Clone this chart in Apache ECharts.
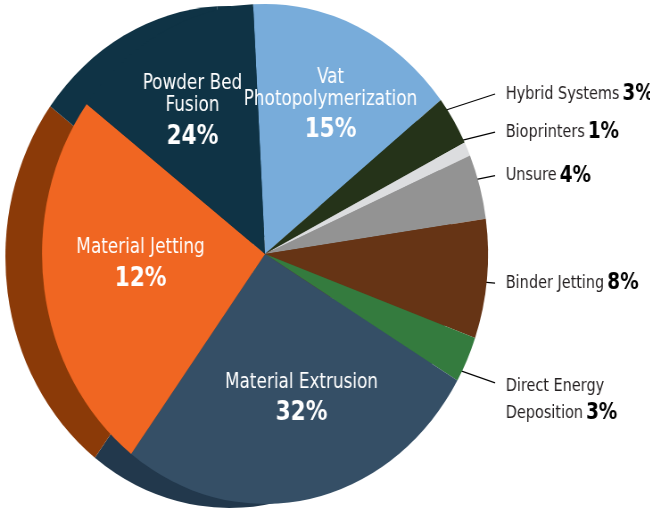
<!DOCTYPE html>
<html><head><meta charset="utf-8">
<script src="https://cdn.jsdelivr.net/npm/echarts@6/dist/echarts.min.js"></script>
<style>
html,body{margin:0;padding:0;background:#fff;overflow:hidden;width:650px;height:514px}
#chart{width:729px;height:514px;transform:scaleX(0.892);transform-origin:0 0}
</style></head><body><div id="chart"></div>
<script>
// categories clockwise from the top
const categories = ['Vat Photopolymerization','Hybrid Systems','Bioprinters','Unsure','Binder Jetting','Direct Energy Deposition','Material Extrusion','Material Jetting','Powder Bed Fusion'];
// slice shares as drawn in the picture
const sliceShares = [15.3, 3.2, 0.9, 4.2, 7.7, 3.0, 26.8, 25.0, 13.9];
// percentages printed on the chart
const printedPercents = ['15%','3%','1%','4%','8%','3%','32%','12%','24%'];
const labelNames = ['Vat\nPhotopolymerization','Hybrid Systems','Bioprinters','Unsure','Binder Jetting','Direct Energy\nDeposition','Material Extrusion','Material Jetting','Powder Bed\nFusion'];

const faceColors = ['#78acda','#253319','#dcdddf','#939393','#663415','#347b3e','#354f66','#f06622','#0f3345'];
const sideColors = ['#0f3345','#253319','#dcdddf','#939393','#663415','#347b3e','#22384c','#8b3a08','#0f3345'];
const innerVat = [0];
const innerPowder = [8];
const innerB = [6, 7];
const outer = [1, 2, 3, 4, 5];

// layout / style settings (not data)
const FONT = "'Liberation Sans Narrow','Arial Narrow','DejaVu Sans Condensed',sans-serif";
const START = 93.07;
const R = 250;
const FACE_CENTER = [297.1, 254];
const SIDE_CENTER = [257, 257];
const SIDE_R = 251;
const LINE_END_X = 555;
const LABEL_X = 567;
const innerPadding = { 0: [18, 0, 0, 6], 8: [4, 12, 0, 0], 6: [8, 0, 0, 24], 7: [0, 0, 14, 12] };
const outerLineLen = { 1: 45, 2: 35, 3: 35, 4: 35, 5: 50 };

function baseData(colors) {
  return categories.map((c, i) => ({ name: c, value: sliceShares[i], itemStyle: { color: colors ? colors[i] : 'rgba(0,0,0,0)' } }));
}
function innerFormatter(p) {
  const lines = labelNames[p.dataIndex].split('\n').map(s => '{n|' + s + '}');
  return lines.join('\n') + '\n{p|' + printedPercents[p.dataIndex] + '}';
}
function outerFormatter(p) {
  const lines = labelNames[p.dataIndex].split('\n');
  const last = lines.pop();
  return lines.map(s => '{n|' + s + '}').concat(['{n|' + last + '} {p|' + printedPercents[p.dataIndex] + '}']).join('\n');
}
const innerRich = {
  n: { color: '#ffffff', fontSize: 21, lineHeight: 22, fontFamily: FONT },
  p: { color: '#ffffff', fontSize: 27, fontWeight: 'bold', lineHeight: 40, fontFamily: FONT }
};
const outerRich = {
  n: { color: '#231f20', fontSize: 18, lineHeight: 27, fontFamily: FONT },
  p: { color: '#000000', fontSize: 23, fontWeight: 'bold', lineHeight: 27, fontFamily: FONT }
};
function labelPie(radius, showIdx) {
  return {
    type: 'pie', silent: true, animation: false, clockwise: true, startAngle: START,
    center: FACE_CENTER, radius: radius, avoidLabelOverlap: false,
    data: baseData(null).map((d, i) => Object.assign(d, {
      label: Object.assign({ show: showIdx.indexOf(i) >= 0 }, innerPadding[i] ? { padding: innerPadding[i] } : {}),
      labelLine: { show: false }
    })),
    label: { position: 'inside', formatter: innerFormatter, rich: innerRich, align: 'center' },
    labelLine: { show: false },
    labelLayout: { hideOverlap: false },
    emphasis: { disabled: true }
  };
}

const chart = echarts.init(document.getElementById('chart'), null, { renderer: 'canvas' });
chart.setOption({
  animation: false,
  series: [
    { type: 'pie', silent: true, animation: false, startAngle: START, center: SIDE_CENTER, radius: SIDE_R,
      data: baseData(sideColors), label: { show: false }, labelLine: { show: false }, emphasis: { disabled: true } },
    { type: 'pie', silent: true, animation: false, startAngle: START, center: FACE_CENTER, radius: R,
      data: baseData(faceColors), label: { show: false }, labelLine: { show: false }, emphasis: { disabled: true } },
    labelPie([84, 250], innerVat),
    labelPie([64, 250], innerPowder),
    labelPie([38, 250], innerB),
    {
      type: 'pie', silent: true, animation: false, startAngle: START,
      center: [257, 254], radius: 255,
      data: baseData(null).map((d, i) => Object.assign(d, {
        label: Object.assign({ show: outer.indexOf(i) >= 0 }, i === 5 ? { padding: [34, 0, 0, 0] } : {}),
        labelLine: { show: outer.indexOf(i) >= 0, length: outerLineLen[i] || 35 }
      })),
      label: { position: 'outside', distanceToLabelLine: 12, formatter: outerFormatter, rich: outerRich },
      labelLine: { show: true, length: 35, length2: 5, lineStyle: { color: '#000000', width: 1.2 } },
      labelLayout: function (params) {
        const pts = params.labelLinePoints;
        if (!pts || pts.length < 3) return {};
        const y = pts[2][1];
        return { x: LABEL_X, align: 'left', hideOverlap: false, labelLinePoints: [pts[0], [LINE_END_X, y], [LINE_END_X, y]] };
      },
      emphasis: { disabled: true }
    }
  ]
});
</script></body></html>
